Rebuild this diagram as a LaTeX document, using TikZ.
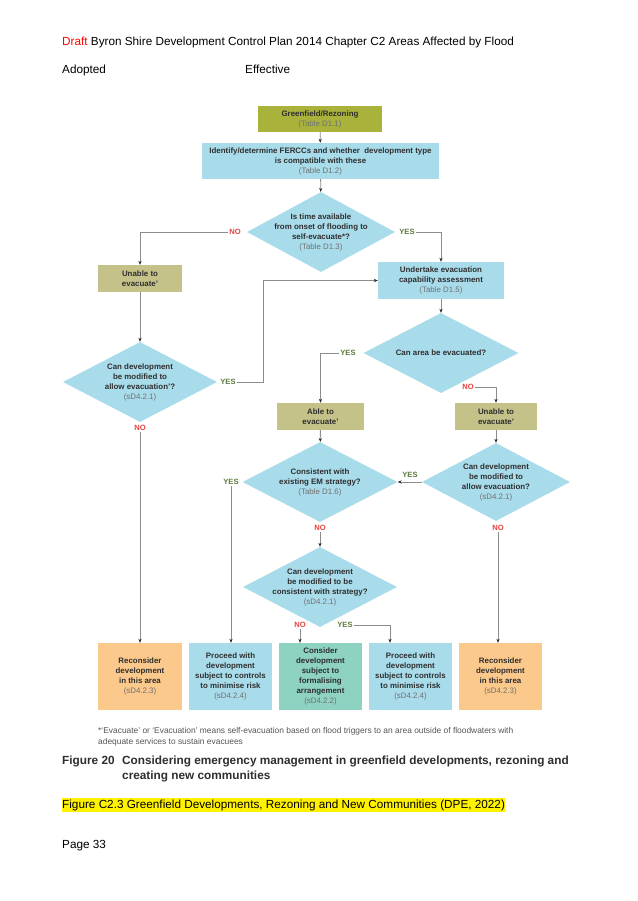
\documentclass[tikz,border=0pt]{standalone}
\usepackage{fontspec}
\setmainfont{Liberation Sans}
\usetikzlibrary{shapes.geometric,arrows.meta}
\definecolor{oliveA}{HTML}{A9B33B}
\definecolor{oliveB}{HTML}{C5C289}
\definecolor{lblue}{HTML}{A9DCEB}
\definecolor{orng}{HTML}{FCC98C}
\definecolor{tealA}{HTML}{8ED2C2}
\definecolor{lgray}{HTML}{8C8C8C}
\definecolor{txt}{HTML}{2E2E2E}
\definecolor{reftxt}{HTML}{707070}
\definecolor{nored}{HTML}{E8413C}
\definecolor{yesgrn}{HTML}{5E7B3C}
\definecolor{fntxt}{HTML}{555555}
\newcommand\rf[1]{{\mdseries\color{reftxt}#1}}
\begin{document}
\begin{tikzpicture}[x=1pt,y=-1pt,
  boxst/.style={draw=none, inner sep=0pt, text=txt, font=\fontsize{7.9}{10}\selectfont\bfseries, align=center},
  dia/.style={diamond, fill=lblue, draw=none, inner sep=0pt},
  dtext/.style={inner sep=0pt, text=txt, font=\fontsize{7.9}{10}\selectfont\bfseries, align=center},
  lab/.style={font=\fontsize{7.6}{8}\selectfont\bfseries, inner sep=1.5pt},
  nolab/.style={lab, text=nored},
  yeslab/.style={lab, text=yesgrn},
  line/.style={draw=lgray, line width=0.8pt},
  arr/.style={line, -{Stealth[length=4pt,width=3.2pt,color=black!85]}},
  hdr/.style={anchor=base west, inner sep=0pt, font=\fontsize{11.75}{14}\selectfont}
]
\useasboundingbox[fill=white] (0,0) rectangle (637,901);

% header
\node[hdr] (h1) at (62,46) {\textcolor{red}{Draft} Byron Shire Development Control Plan 2014 Chapter C2 Areas Affected by Flood};
\node[hdr] (h2) at (62,74) {Adopted};
\node[hdr] (h3) at (245,74) {Effective};

% boxes
\node[boxst, fill=oliveA, minimum width=124pt, minimum height=26pt] (g) at (320,119) {Greenfield/Rezoning\\\rf{(Table D1.1)}};
\node[boxst, fill=lblue, minimum width=237pt, minimum height=36pt] (id) at (320.5,161) {Identify/determine FERCCs and whether~ development type\\is compatible with these\\\rf{(Table D1.2)}};

\node[dia, minimum width=148pt, minimum height=80pt] (d1) at (321,232) {};
\node[dtext] at (d1) {Is time available\\from onset of flooding to\\self-evacuate*?\\\rf{(Table D1.3)}};

\node[boxst, fill=oliveB, minimum width=84pt, minimum height=27pt] (ul) at (140,278.5) {Unable to\\evacuate’};
\node[boxst, fill=lblue, minimum width=126pt, minimum height=37pt] (ua) at (441,280.5) {Undertake evacuation\\capability assessment\\\rf{(Table D1.5)}};

\node[dia, minimum width=155pt, minimum height=80pt] (d2) at (441,353) {};
\node[dtext] at (d2) {Can area be evacuated?};

\node[dia, minimum width=154pt, minimum height=80pt] (ld) at (140,382) {};
\node[dtext] at (ld) {Can development\\be modified to\\allow evacuation’?\\\rf{(sD4.2.1)}};

\node[boxst, fill=oliveB, minimum width=87pt, minimum height=27pt] (able) at (320.5,416.5) {Able to\\evacuate’};
\node[boxst, fill=oliveB, minimum width=82pt, minimum height=27pt] (ur) at (496,416.5) {Unable to\\evacuate’};

\node[dia, minimum width=155pt, minimum height=80pt] (d3) at (320,482) {};
\node[dtext] at (d3) {Consistent with\\existing EM strategy?\\\rf{(Table D1.6)}};

\node[dia, minimum width=148pt, minimum height=78pt] (d4) at (496,482) {};
\node[dtext] at (d4) {Can development\\be modified to\\allow evacuation?\\\rf{(sD4.2.1)}};

\node[dia, minimum width=154pt, minimum height=80pt] (d5) at (320,587) {};
\node[dtext] at (d5) {Can development\\be modified to be\\consistent with strategy?\\\rf{(sD4.2.1)}};

% bottom boxes
\node[boxst, fill=orng, minimum width=84pt, minimum height=67pt] (rl) at (140,676.5) {Reconsider\\development\\in this area\\\rf{(sD4.2.3)}};
\node[boxst, fill=lblue, minimum width=83pt, minimum height=67pt] (pl) at (230.5,676.5) {Proceed with\\development\\subject to controls\\to minimise risk\\\rf{(sD4.2.4)}};
\node[boxst, fill=tealA, minimum width=83pt, minimum height=67pt] (cons) at (320.5,676.5) {Consider\\development\\subject to\\formalising\\arrangement\\\rf{(sD4.2.2)}};
\node[boxst, fill=lblue, minimum width=83pt, minimum height=67pt] (pr) at (410.5,676.5) {Proceed with\\development\\subject to controls\\to minimise risk\\\rf{(sD4.2.4)}};
\node[boxst, fill=orng, minimum width=83pt, minimum height=67pt] (rr) at (500.5,676.5) {Reconsider\\development\\in this area\\\rf{(sD4.2.3)}};

% labels
\node[nolab] (no1) at (235,232) {NO};
\node[yeslab] (yes1) at (407,232) {YES};
\node[yeslab] (yes2) at (348,353) {YES};
\node[nolab] (no2) at (468,387) {NO};
\node[yeslab] (yes3) at (228,382) {YES};
\node[nolab] (no3) at (140,428) {NO};
\node[yeslab] (yes4) at (410,475) {YES};
\node[yeslab] (yes5) at (231,482) {YES};
\node[nolab] (no5) at (320,528) {NO};
\node[nolab] (no4) at (498,528) {NO};
\node[nolab] (no6) at (300,625) {NO};
\node[yeslab] (yes6) at (345,625) {YES};

\coordinate (k1) at (263,382);
\coordinate (k2) at (390,625);

% connectors
\draw[arr] (g) -- (id);
\draw[arr] (id) -- (d1);
\draw[arr] (no1.west) -| (ul.north);
\draw[arr] (yes1.east) -| (ua.north);
\draw[arr] (ua) -- (d2);
\draw[arr] (yes2.west) -| (able.north);
\draw[arr] (no2.east) -| (ur.north);
\draw[arr] (ul) -- (ld);
\draw[arr] (yes3.east) -- (k1) |- (ua.west);
\draw[arr] (no3.south) -- (rl.north);
\draw[arr] (able) -- (d3);
\draw[arr] (ur) -- (d4);
\draw[arr] (d4.west) -- (d3.east);
\draw[arr] (yes5.south) -- (yes5.south |- pl.north);
\draw[arr] (no5.south) -- (d5.north);
\draw[arr] (no4.south) -- (no4.south |- rr.north);
\draw[arr] (no6.south) -- (no6.south |- cons.north);
\draw[arr] (yes6.east) -- (k2) -- (k2 |- pr.north);

% footnote
\node[anchor=base west, inner sep=0pt, text=fntxt, font=\fontsize{8.4}{10}\selectfont] (fn1) at (98,733) {*‘Evacuate’ or ‘Evacuation’ means self-evacuation based on flood triggers to an area outside of floodwaters with};
\node[anchor=base west, inner sep=0pt, text=fntxt, font=\fontsize{8.4}{10}\selectfont] (fn2) at (98,744) {adequate services to sustain evacuees};

% caption
\node[anchor=base west, inner sep=0pt, text=txt, font=\fontsize{11.8}{14}\selectfont\bfseries] (c0) at (62,764) {Figure 20};
\node[anchor=base west, inner sep=0pt, text=txt, font=\fontsize{11.8}{14}\selectfont\bfseries] (c1) at (122,764) {Considering emergency management in greenfield developments, rezoning and};
\node[anchor=base west, inner sep=0pt, text=txt, font=\fontsize{11.8}{14}\selectfont\bfseries] (c2) at (122,779) {creating new communities};

\node[hdr, fill=yellow, inner ysep=1.5pt] (fig) at (62,808) {Figure C2.3 Greenfield Developments, Rezoning and New Communities (DPE, 2022)};
\node[hdr] (pg) at (62,848) {Page 33};
\end{tikzpicture}
\end{document}
